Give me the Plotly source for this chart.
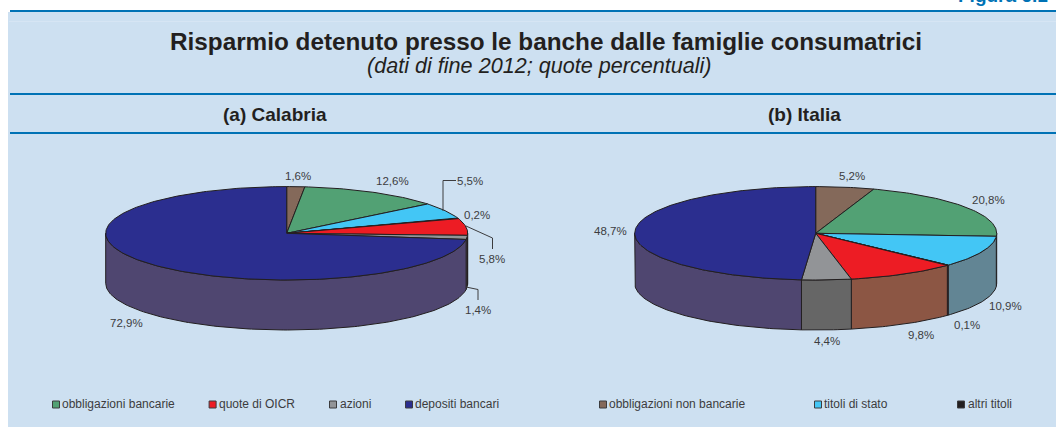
import math
import plotly.graph_objects as go

categories = ["obbligazioni non bancarie", "obbligazioni bancarie", "titoli di stato", "altri titoli",
              "quote di OICR", "azioni", "depositi bancari"]
calabria = [1.6, 12.6, 5.5, 0.2, 5.8, 1.4, 72.9]
italia = [5.2, 20.8, 10.9, 0.1, 9.8, 4.4, 48.7]
top_colors = ["#84695A", "#52A174", "#43C6F5", "#231F20", "#ED1C24", "#929497", "#2B2E8F"]
side_colors = ["#6A544A", "#42805C", "#628594", "#1C191A", "#8C5644", "#666666", "#4F4670"]

W, H = 1056, 427
BG = "#CDE0F1"
RULE = "#0072B5"
TXT = "#3C3C3E"
RX, RY, DEPTH = 181, 46.7, 50
CY = 233.3
CENTER_A, CENTER_B = 286.7, 815.7

fig = go.Figure()


def pt(cx, a, dy=0.0):
    return cx + RX * math.sin(a), CY - RY * math.cos(a) + dy


def arc(a0, a1):
    n = max(2, int(abs(a1 - a0) / 0.02) + 2)
    return [a0 + (a1 - a0) * i / (n - 1) for i in range(n)]


def poly(xs, ys, fill, lw=1.0):
    fig.add_trace(go.Scatter(x=xs, y=ys, mode="lines", fill="toself", fillcolor=fill,
                             line=dict(color="#231F20", width=lw), hoverinfo="skip", showlegend=False))


def pie(values, cx):
    total = sum(values)
    start = 0.0
    spans = []
    for v in values:
        end = start + v / total * 2 * math.pi
        spans.append((start, end))
        start = end
    # walls: only the front half of the rim shows
    for (a0, a1), col in zip(spans, side_colors):
        lo, hi = max(a0, math.pi / 2), min(a1, 3 * math.pi / 2)
        if hi > lo:
            aa = arc(lo, hi)
            top = [pt(cx, a) for a in aa]
            bot = [pt(cx, a, DEPTH) for a in reversed(aa)]
            pts = top + bot + [top[0]]
            poly([p[0] for p in pts], [p[1] for p in pts], col)
    # top faces
    for (a0, a1), col in zip(spans, top_colors):
        pts = [(cx, CY)] + [pt(cx, a) for a in arc(a0, a1)] + [(cx, CY)]
        poly([p[0] for p in pts], [p[1] for p in pts], col)


pie(calabria, CENTER_A)
pie(italia, CENTER_B)

# leader lines (Calabria)
leaders = [
    ([443, 443, 456], [211, 180.5, 180.5]),
    ([466, 492.5, 492.5], [226, 238, 249]),
    ([466, 478, 478], [287, 289.5, 300]),
]
for xs, ys in leaders:
    fig.add_trace(go.Scatter(x=xs, y=ys, mode="lines", line=dict(color="#3C3C3E", width=1),
                             hoverinfo="skip", showlegend=False))

# legend markers: name, marker x, label x, colour
legend_rows = [
    ("obbligazioni bancarie", 56, 60, "#52A174"), ("quote di OICR", 212.6, 217, "#ED1C24"),
    ("azioni", 333, 337.5, "#929497"), ("depositi bancari", 409, 413, "#2B2E8F"),
    ("obbligazioni non bancarie", 603, 607, "#84695A"), ("titoli di stato", 818, 822, "#43C6F5"),
    ("altri titoli", 961, 965.5, "#231F20"),
]
for name, x, lx, col in legend_rows:
    fig.add_trace(go.Scatter(x=[x], y=[404.5], mode="markers",
                             marker=dict(symbol="square", size=7, color=col, line=dict(color="#3C3C3E", width=1)),
                             hoverinfo="skip", showlegend=False))


def text(x, y, s, size=11.5, color=TXT, anchor="center", bold=False, italic=False, yanchor="middle"):
    if bold:
        s = "<b>%s</b>" % s
    if italic:
        s = "<i>%s</i>" % s
    fig.add_annotation(x=x, y=y, text=s, showarrow=False, xanchor=anchor, yanchor=yanchor,
                       font=dict(family="Liberation Sans", size=size, color=color), xref="x", yref="y")


for name, x, lx, col in legend_rows:
    text(lx, 404, name, size=12, anchor="left")

fmt = lambda v: ("%.1f%%" % v).replace(".", ",")
lab_a = [(298, 176), (392, 181), (470, 181), (477, 215), (492, 259), (478, 310), (126, 323)]
lab_b = [(852, 176), (988, 200), (1005, 306), (967, 325), (921, 335), (827, 341), (610, 231)]
for (x, y), v in zip(lab_a, calabria):
    text(x, y, fmt(v))
for (x, y), v in zip(lab_b, italia):
    text(x, y, fmt(v))

text(545.5, 41, "Risparmio detenuto presso le banche dalle famiglie consumatrici", size=24.3, color="#231F20", bold=True)
text(539, 65.5, "(dati di fine 2012; quote percentuali)", size=21.6, color="#231F20", italic=True)
text(274.5, 114, "(a) Calabria", size=19, color="#231F20", bold=True)
text(804, 114, "(b) Italia", size=19, color="#231F20", bold=True)
text(956, 8, "Figura 6.1", size=19, color="#0072B5", bold=True, anchor="left", yanchor="bottom")

shapes = [
    dict(type="rect", x0=8, x1=W, y0=12, y1=H, fillcolor=BG, line_width=0, layer="below"),
    dict(type="rect", x0=9, x1=W, y0=21, y1=21.7, fillcolor="#D8E7F5", line_width=0, layer="below"),
    dict(type="rect", x0=10, x1=W, y0=10, y1=12, fillcolor=RULE, line_width=0, layer="below"),
    dict(type="rect", x0=10, x1=W, y0=93, y1=95, fillcolor=RULE, line_width=0, layer="below"),
    dict(type="rect", x0=10, x1=W, y0=132, y1=134, fillcolor=RULE, line_width=0, layer="below"),
]

fig.update_layout(
    width=W, height=H, margin=dict(l=0, r=0, t=0, b=0), paper_bgcolor="white", plot_bgcolor="white",
    showlegend=False, shapes=shapes,
    xaxis=dict(range=[0, W], visible=False, fixedrange=True),
    yaxis=dict(range=[H, 0], visible=False, fixedrange=True),
)
fig.write_html("out.html", config={"displayModeBar": False},
               post_script="document.body.style.margin='0';document.body.style.overflow='hidden';")
